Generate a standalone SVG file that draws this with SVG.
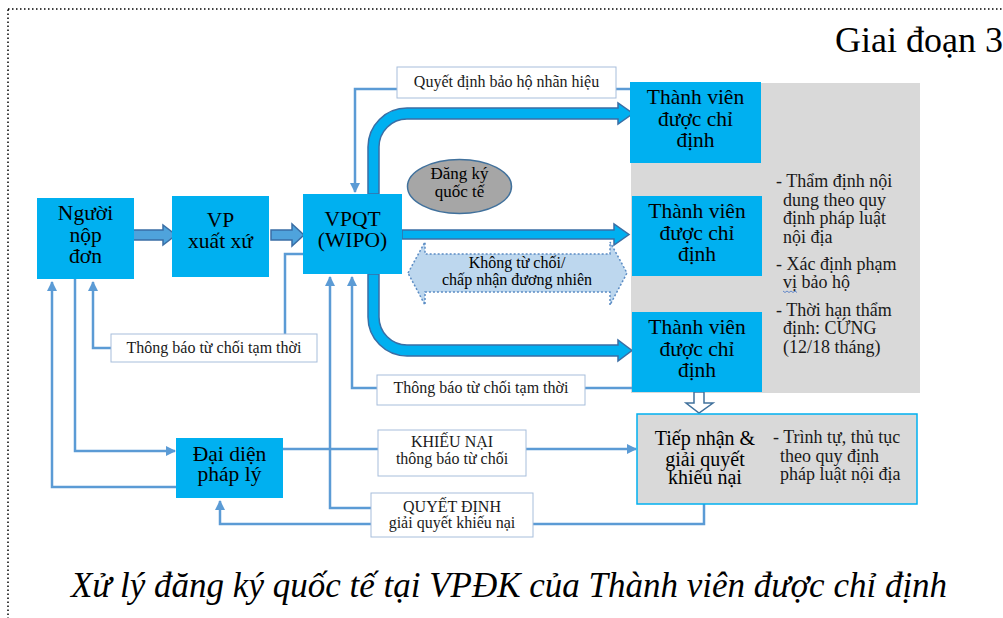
<svg xmlns="http://www.w3.org/2000/svg" width="1003" height="618" viewBox="0 0 1003 618">
  <style>
    text { font-family: "Liberation Serif", "Times New Roman", serif; fill: #000; }
    .node { fill: #00B0F0; }
    .nt { font-size: 21.5px; text-anchor: middle; }
    .lbl { fill: #fff; stroke: #A7BEDB; stroke-width: 1; }
    .lt { font-size: 16px; text-anchor: middle; fill: #1a1a1a; }
    .pt { font-size: 18px; fill: #1a1a1a; }
    .wire { fill: none; stroke: #5B9BD5; stroke-width: 2.5; }
    .big { fill: #00B0F0; stroke: #3A6EA5; stroke-width: 1.5; stroke-linejoin: miter; }
    .blk { fill: #4FA3DC; stroke: #3A6EA5; stroke-width: 1.5; }
  </style>
  <defs>
    <marker id="arw" viewBox="0 0 10 10" refX="9" refY="5" markerWidth="4" markerHeight="4" orient="auto" markerUnits="strokeWidth">
      <path d="M0,0 L10,5 L0,10 Z" fill="#5B9BD5"/>
    </marker>
  </defs>

  <!-- dotted frame -->
  <rect x="8" y="9" width="1010" height="625" fill="none" stroke="#000" stroke-width="1.5" stroke-dasharray="1.5 2.5"/>

  <text x="835" y="52" font-size="36">Giai đoạn 3</text>

  <!-- grey review panel behind designated members -->
  <rect id="panel" x="631" y="83" width="289" height="310" fill="#D9D9D9"/>

  <g id="connectors">
    <!-- block arrows -->
    <path class="blk" d="M131,230 L163,230 L163,225 L176,235 L163,245 L163,240 L131,240 Z"/>
    <path class="blk" d="M271,230 L292,230 L292,224 L304,235 L292,246 L292,240 L271,240 Z"/>
    <!-- VPQT to designated members -->
    <path class="big" d="M368,194 L368,147 A39,39 0 0 1 407,108 L618,108 L618,103 L633,113.5 L618,124 L618,119 L407,119 A28,28 0 0 0 379,147 L379,194 Z"/>
    <path class="big" d="M402,230 L614,230 L614,224 L629,234.5 L614,245 L614,239 L402,239 Z"/>
    <path class="big" d="M368,274 L368,317 A39,39 0 0 0 407,356 L618,356 L618,361 L632,350.5 L618,340 L618,345 L407,345 A28,28 0 0 1 379,317 L379,274 Z"/>
    <!-- no refusal / default acceptance -->
    <g id="khong-tu-choi">
      <path d="M408,273 L425,242 L425,254 L610,254 L610,242 L627,273 L610,305 L610,292 L425,292 L425,305 Z" fill="#BDD7EE" stroke="#5B8CC4" stroke-width="1.5" stroke-dasharray="2 2"/>
      <text x="517" y="268" font-size="16" text-anchor="middle" fill="#1a1a1a">Không từ chối/</text>
      <text x="517" y="285" font-size="16" text-anchor="middle" fill="#1a1a1a">chấp nhận đương nhiên</text>
    </g>
    <!-- hollow arrow to appeal handling -->
    <path d="M694,392 L704,392 L704,403 L713,403 L699,413 L686,403 L694,403 Z" fill="#fff" stroke="#41719C" stroke-width="1.5"/>

    <!-- thin lines -->
    <polyline class="wire" points="630,89 355,89 355,192" marker-end="url(#arw)"/>
    <polyline class="wire" points="303,254 285,254 285,348 93,348 93,282" marker-end="url(#arw)"/>
    <polyline class="wire" points="632,388 352,388 352,277" marker-end="url(#arw)"/>
    <polyline class="wire" points="371,508 330,508 330,277" marker-end="url(#arw)"/>
    <polyline class="wire" points="176,487 52,487 52,282" marker-end="url(#arw)"/>
    <polyline class="wire" points="75,279 75,451 175,451" marker-end="url(#arw)"/>
    <polyline class="wire" points="283,449 636,449" marker-end="url(#arw)"/>
    <polyline class="wire" points="704,504 704,524 220,524 220,501" marker-end="url(#arw)"/>
  </g>

  <!-- connector labels -->
  <g id="lbl-bao-ho">
    <rect class="lbl" x="397" y="67" width="219" height="31"/>
    <text class="lt" x="506.5" y="87">Quyết định bảo hộ nhãn hiệu</text>
  </g>
  <g id="lbl-tu-choi-1">
    <rect class="lbl" x="111" y="334" width="206" height="28"/>
    <text class="lt" x="214" y="353">Thông báo từ chối tạm thời</text>
  </g>
  <g id="lbl-tu-choi-2">
    <rect class="lbl" x="377" y="375" width="208" height="30"/>
    <text class="lt" x="481" y="393">Thông báo từ chối tạm thời</text>
  </g>
  <g id="lbl-khieu-nai">
    <rect class="lbl" x="378" y="430" width="148" height="46"/>
    <text class="lt" x="452" y="447">KHIẾU NẠI</text>
    <text class="lt" x="452" y="464">thông báo từ chối</text>
  </g>
  <g id="lbl-quyet-dinh">
    <rect class="lbl" x="371" y="493" width="162" height="44"/>
    <text class="lt" x="452" y="512">QUYẾT ĐỊNH</text>
    <text class="lt" x="452" y="528">giải quyết khiếu nại</text>
  </g>

  <!-- nodes -->
  <g id="nguoi-nop-don">
    <rect class="node" x="37" y="198" width="97" height="81"/>
    <text class="nt" x="85.5" y="220">Người</text>
    <text class="nt" x="85.5" y="242">nộp</text>
    <text class="nt" x="85.5" y="263">đơn</text>
  </g>
  <g id="vp-xuat-xu">
    <rect class="node" x="172" y="196" width="97" height="81"/>
    <text class="nt" x="220.5" y="227">VP</text>
    <text class="nt" x="220.5" y="248">xuất xứ</text>
  </g>
  <g id="vpqt">
    <rect class="node" x="303" y="194" width="99" height="80"/>
    <text class="nt" x="352.5" y="226">VPQT</text>
    <text class="nt" x="352.5" y="247">(WIPO)</text>
  </g>
  <g id="dang-ky-quoc-te">
    <ellipse cx="459.5" cy="186.5" rx="52" ry="27" fill="#A6A6A6" stroke="#41719C" stroke-width="1.5"/>
    <text x="459.5" y="179" font-size="17" text-anchor="middle">Đăng ký</text>
    <text x="459.5" y="197" font-size="17" text-anchor="middle">quốc tế</text>
  </g>
  <g id="thanh-vien-1">
    <rect class="node" x="630" y="82" width="131" height="81"/>
    <text class="nt" x="695.5" y="104">Thành viên</text>
    <text class="nt" x="695.5" y="126">được chỉ</text>
    <text class="nt" x="695.5" y="147">định</text>
  </g>
  <g id="thanh-vien-2">
    <rect class="node" x="632" y="196" width="130" height="80"/>
    <text class="nt" x="697" y="218">Thành viên</text>
    <text class="nt" x="697" y="240">được chỉ</text>
    <text class="nt" x="697" y="261">định</text>
  </g>
  <g id="thanh-vien-3">
    <rect class="node" x="632" y="312" width="130" height="80"/>
    <text class="nt" x="697" y="334">Thành viên</text>
    <text class="nt" x="697" y="356">được chỉ</text>
    <text class="nt" x="697" y="377">định</text>
  </g>
  <g id="tham-dinh">
    <text class="pt" x="776" y="187">- Thẩm định nội</text>
    <text class="pt" x="783" y="206">dung theo quy</text>
    <text class="pt" x="783" y="224">định pháp luật</text>
    <text class="pt" x="783" y="243">nội địa</text>
    <text class="pt" x="776" y="270">- Xác định phạm</text>
    <text class="pt" x="783" y="288">vị bảo hộ</text>
    <path d="M783,291 l2,1.5 l2,-1.5 l2,1.5 l2,-1.5 l2,1.5 l2,-1.5 l2,1.5" fill="none" stroke="#4472C4" stroke-width="0.8"/>
    <text class="pt" x="776" y="316">- Thời hạn thẩm</text>
    <text class="pt" x="783" y="334">định: CỨNG</text>
    <text class="pt" x="783" y="353">(12/18 tháng)</text>
  </g>
  <g id="dai-dien">
    <rect class="node" x="176" y="438" width="107" height="60"/>
    <text class="nt" x="229.5" y="461">Đại diện</text>
    <text class="nt" x="229.5" y="481">pháp lý</text>
  </g>
  <g id="tiep-nhan">
    <rect x="637" y="414" width="280" height="90" fill="#D9D9D9" stroke="#00B0F0" stroke-width="1.5"/>
    <text x="705" y="445" font-size="20" text-anchor="middle">Tiếp nhận &amp;</text>
    <text x="705" y="466" font-size="20" text-anchor="middle">giải quyết</text>
    <text x="705" y="484" font-size="20" text-anchor="middle">khiếu nại</text>
    <text class="pt" x="773" y="443">- Trình tự, thủ tục</text>
    <text class="pt" x="780" y="462">theo quy định</text>
    <text class="pt" x="780" y="480">pháp luật nội địa</text>
  </g>

  <text x="509" y="597" font-size="35" font-style="italic" text-anchor="middle">Xử lý đăng ký quốc tế tại VPĐK của Thành viên được chỉ định</text>
</svg>
